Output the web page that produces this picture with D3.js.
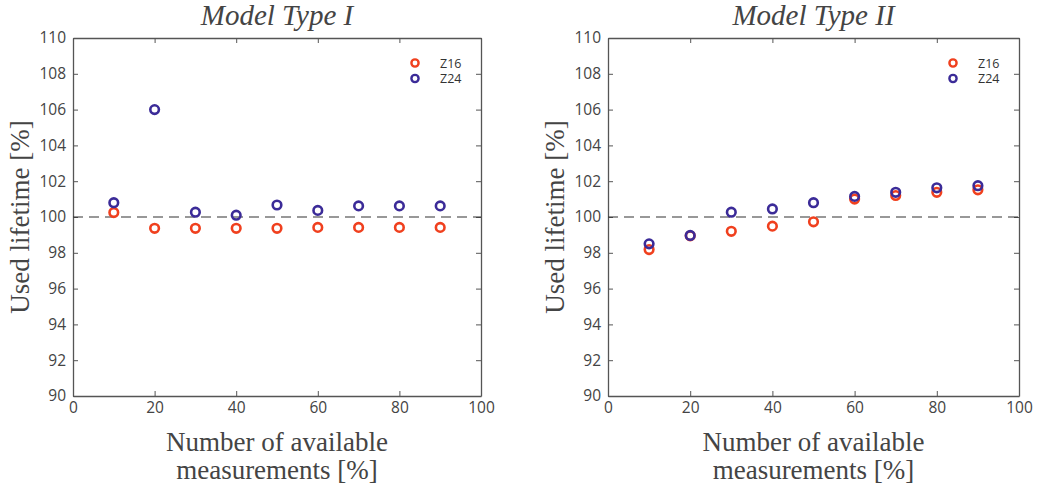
<!DOCTYPE html>
<html>
<head>
<meta charset="utf-8">
<script src="https://cdn.jsdelivr.net/npm/d3@7"></script>
<style>
  body { margin: 0; background: #fff; }
  .tick text { font-family: 'Open Sans', sans-serif; font-size: 15.5px; fill: #444; }
  .tick line, .domain { stroke: #555; }
</style>
</head>
<body>
<svg width="1037" height="490"></svg>
<script>
// Data
var xValues = [10, 20, 30, 40, 50, 60, 70, 80, 90];
var seriesNames = ['Z16', 'Z24'];
var type1Z16 = [100.25, 99.37, 99.37, 99.37, 99.37, 99.42, 99.42, 99.42, 99.42];
var type1Z24 = [100.8, 106.0, 100.27, 100.1, 100.67, 100.37, 100.62, 100.62, 100.62];
var type2Z16 = [98.18, 98.95, 99.2, 99.49, 99.73, 101.0, 101.2, 101.38, 101.52];
var type2Z24 = [98.5, 98.97, 100.27, 100.45, 100.8, 101.15, 101.38, 101.63, 101.75];
var xTicks = [0, 20, 40, 60, 80, 100];
var yTicks = [90, 92, 94, 96, 98, 100, 102, 104, 106, 108, 110];

var colors = {Z16: '#f0401e', Z24: '#3b2b98'};

var svg = d3.select('svg');

var panels = [
    {title: 'Model Type I', left: 73, right: 481, series: {Z16: type1Z16, Z24: type1Z24}},
    {title: 'Model Type II', left: 608, right: 1019, series: {Z16: type2Z16, Z24: type2Z24}}
];
var plotTop = 38, plotBottom = 396;

panels.forEach(function(p) {
    var x = d3.scaleLinear().domain([0, 100]).range([p.left, p.right]);
    var y = d3.scaleLinear().domain([90, 110]).range([plotBottom, plotTop]);
    var g = svg.append('g');

    // axes, ticks point inward on all four sides
    g.append('g').attr('transform', 'translate(0,' + plotBottom + ')')
        .call(d3.axisBottom(x).tickValues(xTicks).tickSizeInner(-5).tickSizeOuter(0).tickPadding(6));
    g.append('g').attr('transform', 'translate(0,' + plotTop + ')')
        .call(d3.axisTop(x).tickValues(xTicks).tickSizeInner(-5).tickSizeOuter(0).tickFormat(''));
    g.append('g').attr('transform', 'translate(' + p.left + ',0)')
        .call(d3.axisLeft(y).tickValues(yTicks).tickSizeInner(-5).tickSizeOuter(0).tickPadding(7));
    g.append('g').attr('transform', 'translate(' + p.right + ',0)')
        .call(d3.axisRight(y).tickValues(yTicks).tickSizeInner(-5).tickSizeOuter(0).tickFormat(''));
    g.selectAll('.domain').attr('stroke-width', 1.3);

    // reference line at 100 %
    g.append('line')
        .attr('x1', x(0)).attr('x2', x(100))
        .attr('y1', y(100)).attr('y2', y(100))
        .attr('stroke', '#333').attr('stroke-width', 1.1)
        .attr('stroke-dasharray', '10,6');

    seriesNames.forEach(function(name) {
        g.selectAll('.pt-' + name)
            .data(p.series[name])
            .enter().append('circle')
            .attr('class', 'pt-' + name)
            .attr('cx', function(d, i) { return x(xValues[i]); })
            .attr('cy', function(d) { return y(d); })
            .attr('r', 4.3)
            .attr('fill', 'none')
            .attr('stroke', colors[name])
            .attr('stroke-width', 2.6);
    });

    // legend
    seriesNames.forEach(function(name, i) {
        var ly = 63 + i * 15.5;
        g.append('circle')
            .attr('cx', p.right - 66).attr('cy', ly).attr('r', 3.6)
            .attr('fill', 'none').attr('stroke', colors[name]).attr('stroke-width', 2.4);
        g.append('text')
            .attr('x', p.right - 41).attr('y', ly + 4.5)
            .attr('font-family', "'Open Sans', sans-serif").attr('font-size', 12.5)
            .attr('fill', '#333').text(name);
    });

    var cx = (p.left + p.right) / 2;
    g.append('text')
        .attr('x', cx).attr('y', 25)
        .attr('text-anchor', 'middle')
        .attr('font-family', "'Liberation Serif', serif").attr('font-style', 'italic')
        .attr('font-size', 29).attr('fill', '#444')
        .text(p.title);

    g.append('text')
        .attr('x', cx).attr('y', 451)
        .attr('text-anchor', 'middle')
        .attr('font-family', "'Liberation Serif', serif")
        .attr('font-size', 27).attr('fill', '#444')
        .text('Number of available');
    g.append('text')
        .attr('x', cx).attr('y', 479)
        .attr('text-anchor', 'middle')
        .attr('font-family', "'Liberation Serif', serif")
        .attr('font-size', 27).attr('fill', '#444')
        .text('measurements [%]');

    g.append('text')
        .attr('transform', 'translate(' + (p.left - 44) + ',' + ((plotTop + plotBottom) / 2) + ') rotate(-90)')
        .attr('text-anchor', 'middle')
        .attr('font-family', "'Liberation Serif', serif")
        .attr('font-size', 27).attr('fill', '#444')
        .text('Used lifetime [%]');
});
</script>
</body>
</html>
